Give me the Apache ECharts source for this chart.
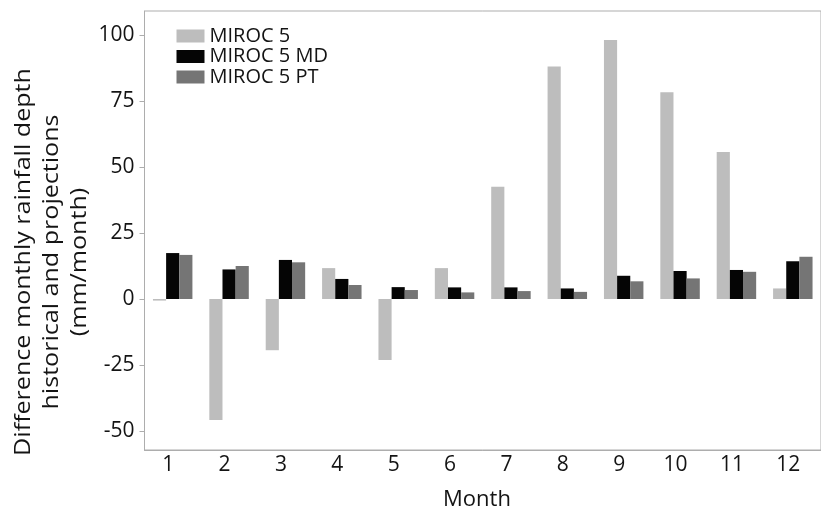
<!DOCTYPE html>
<html>
<head>
<meta charset="utf-8">
<script src="https://cdn.jsdelivr.net/npm/echarts@6/dist/echarts.min.js"></script>
<style>
  html, body { margin: 0; padding: 0; background: #ffffff; }
  #chart { width: 821px; height: 512px; }
</style>
</head>
<body>
<div id="chart"></div>
<script>
// Monthly rainfall depth difference (mm/month) between projections and historical
var months = ['1', '2', '3', '4', '5', '6', '7', '8', '9', '10', '11', '12'];
var miroc5 = [-0.6, -45.8, -19.4, 11.7, -23.1, 11.7, 42.5, 88.1, 98.1, 78.3, 55.7, 4.0];
var miroc5MD = [17.4, 11.2, 14.8, 7.6, 4.5, 4.4, 4.4, 4.0, 8.8, 10.6, 11.0, 14.3];
var miroc5PT = [16.7, 12.5, 13.9, 5.3, 3.4, 2.5, 3.0, 2.7, 6.7, 7.8, 10.3, 16.0];
var yTicks = [-50, -25, 0, 25, 50, 75, 100];

var FONT = '"Open Sans", "Noto Sans", sans-serif';
var TEXT = '#141414';
var AXIS = '#adadad';

var chart = echarts.init(document.getElementById('chart'), null, { renderer: 'canvas' });

chart.setOption({
  animation: false,
  backgroundColor: '#ffffff',
  textStyle: { fontFamily: FONT },
  grid: {
    left: 144.5,
    top: 11,
    bottom: 62,
    right: -9.3,
    show: true,
    borderColor: AXIS,
    borderWidth: 1,
    backgroundColor: 'transparent'
  },
  legend: {
    orient: 'vertical',
    left: 176.5,
    top: 26,
    padding: 0,
    itemWidth: 28,
    itemHeight: 13,
    itemGap: 0.5,
    icon: 'rect',
    textStyle: { fontFamily: FONT, fontSize: 20, color: TEXT, lineHeight: 20 },
    data: ['MIROC 5', 'MIROC 5 MD', 'MIROC 5 PT']
  },
  xAxis: {
    type: 'category',
    data: months,
    axisLine: { onZero: false, lineStyle: { color: AXIS, width: 1 } },
    axisTick: { show: false },
    axisLabel: { fontFamily: FONT, fontSize: 21, color: TEXT, margin: 5, padding: [0, 9, 0, 0] },
    splitLine: { show: false }
  },
  yAxis: {
    type: 'value',
    min: -57.2,
    max: 109.1,
    axisLine: { show: true, lineStyle: { color: AXIS, width: 1 } },
    axisTick: { show: true, length: 5, lineStyle: { color: AXIS }, customValues: yTicks },
    axisLabel: { fontFamily: FONT, fontSize: 21, color: TEXT, margin: 10, customValues: yTicks },
    splitLine: { show: false }
  },
  graphic: [
    {
      // y-axis title, three centred lines reading bottom to top
      type: 'text',
      x: 52,
      y: 262,
      rotation: Math.PI / 2,
      scaleX: 1.14,
      scaleY: 1,
      style: {
        text: 'Difference monthly rainfall depth\nhistorical and projections\n(mm/month)',
        font: '22px ' + FONT,
        fill: TEXT,
        align: 'center',
        verticalAlign: 'middle',
        lineHeight: 28
      }
    },
    {
      type: 'text',
      x: 477,
      y: 500,
      style: {
        text: 'Month',
        font: '22px ' + FONT,
        fill: TEXT,
        align: 'center',
        verticalAlign: 'middle'
      }
    }
  ],
  series: [
    {
      name: 'MIROC 5',
      type: 'bar',
      data: miroc5,
      barGap: '0%',
      barCategoryGap: '30%',
      itemStyle: { color: '#bdbdbd' }
    },
    {
      name: 'MIROC 5 MD',
      type: 'bar',
      data: miroc5MD,
      itemStyle: { color: '#050505' }
    },
    {
      name: 'MIROC 5 PT',
      type: 'bar',
      data: miroc5PT,
      itemStyle: { color: '#757575' }
    }
  ]
});
</script>
</body>
</html>
